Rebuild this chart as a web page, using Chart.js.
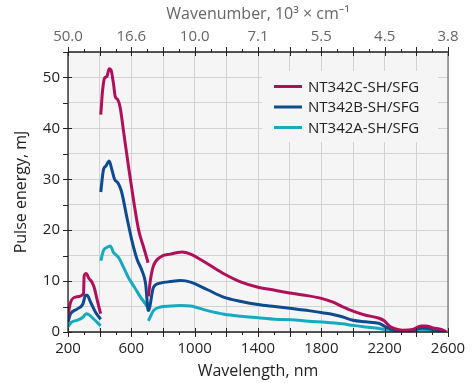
<!DOCTYPE html>
<html>
<head>
<meta charset="utf-8">
<script src="https://cdn.jsdelivr.net/npm/chart.js@4.4.1/dist/chart.umd.min.js"></script>
<style>
  html, body { margin: 0; padding: 0; background: #fff; }
  #wrap { width: 475px; height: 383px; }
</style>
</head>
<body>
<div id="wrap"><canvas id="graph" width="475" height="383"></canvas></div>
<script>
// null splits a curve between the SH / SFG ranges
const waveC = [200, 217, 253, 298, 302, 315, 332, 349, 364, 385, 406, null,
    407, 418, 431, 446, 460, 471, 488, 498, 515, 530, 551, 583, 615, 647, 678, 706, null,
    708, 722, 740, 783, 847, 921, 974, 1081, 1187, 1294, 1400, 1506, 1613, 1719, 1800, 1870, 1932,
    2000, 2080, 2165, 2197, 2229, 2260, 2313, 2377, 2430, 2461, 2504, 2557, 2588];
const energyC = [3.2, 5.9, 6.9, 7.5, 11.0, 11.5, 10.5, 9.9, 8.9, 6.2, 3.6, null,
    42.7, 47.3, 49.9, 50.2, 51.7, 51.5, 48.6, 46.3, 45.6, 44.0, 39.4, 32.3, 25.7, 19.9, 16.6, 13.6, null,
    7.0, 10.5, 13.0, 14.7, 15.3, 15.7, 15.3, 13.4, 11.4, 9.8, 8.8, 8.2, 7.6, 7.1, 6.6, 5.9, 5.0,
    4.1, 3.3, 2.7, 2.2, 1.2, 0.7, 0.35, 0.5, 1.2, 1.2, 0.8, 0.5, 0.1];

const waveB = [200, 215, 257, 294, 311, 321, 342, 374, 406, null,
    407, 424, 439, 460, 477, 494, 515, 537, 572, 604, 636, 668, 690, 705,
    708, 740, 783, 847, 911, 974, 1081, 1187, 1294, 1400, 1506, 1613, 1719, 1826, 1880, 1932,
    2000, 2080, 2165, 2207, 2260, 2355, 2440, 2504, 2588];
const energyB = [1.9, 3.5, 4.5, 5.5, 7.2, 7.2, 5.9, 3.9, 2.5, null,
    27.5, 31.9, 32.6, 33.6, 31.9, 30.0, 29.3, 27.7, 22.5, 17.9, 14.3, 12.0, 9.5, 4.4,
    4.2, 8.8, 9.6, 9.9, 10.1, 9.8, 8.3, 6.8, 6.0, 5.4, 5.0, 4.6, 4.2, 3.7, 3.4, 3.0,
    2.3, 2.0, 1.7, 1.0, 0.35, 0.2, 0.8, 0.5, 0.1];

const waveA = [200, 221, 257, 294, 315, 332, 364, 406, null,
    407, 424, 446, 467, 488, 498, 520, 551, 583, 620, 655, 680, 704, null,
    708, 740, 783, 847, 911, 974, 1081, 1187, 1294, 1400, 1506, 1613, 1719, 1826, 1932,
    2000, 2080, 2165, 2250, 2355, 2440, 2504, 2588];
const energyA = [1.0, 1.9, 2.3, 2.9, 3.6, 3.4, 2.5, 1.2, null,
    14.0, 16.0, 16.6, 16.9, 15.6, 15.3, 14.6, 12.7, 10.6, 8.8, 7.0, 5.9, 4.8, null,
    2.2, 4.2, 4.9, 5.1, 5.2, 5.1, 4.2, 3.5, 3.1, 2.8, 2.5, 2.4, 2.1, 1.9, 1.6,
    1.3, 1.0, 0.7, 0.2, 0.07, 0.5, 0.3, 0.1];

const seriesNames = ['NT342C-SH/SFG', 'NT342B-SH/SFG', 'NT342A-SH/SFG'];
const seriesColors = ['#b0105a', '#0d4a8e', '#15aabf'];

const wavelengthTicks = [200, 600, 1000, 1400, 1800, 2200, 2600];
const wavenumberTicks = ['50.0', '16.6', '10.0', '7.1', '5.5', '4.5', '3.8'];
const energyTicks = [0, 10, 20, 30, 40, 50];

const FONT = '"Open Sans", "Noto Sans", sans-serif';

function toPoints(xs, ys) {
    return xs.map((x, i) => ({x: x, y: ys[i]}));
}

const waves = [waveC, waveB, waveA];
const energies = [energyC, energyB, energyA];

// plot background, frame, tick marks and the inset legend
const decor = {
    id: 'decor',
    beforeDraw(chart) {
        const {ctx, chartArea: a} = chart;
        ctx.save();
        ctx.fillStyle = '#f5f5f5';
        ctx.fillRect(a.left, a.top, a.right - a.left, a.bottom - a.top);
        ctx.restore();
    },
    afterDatasetsDraw(chart) {
        const {ctx, chartArea: a, scales} = chart;
        ctx.save();

        // legend
        ctx.fillStyle = '#f5f5f5';
        ctx.fillRect(262, 71, 176, 71);
        ctx.font = '15px ' + FONT;
        ctx.textBaseline = 'middle';
        ctx.textAlign = 'left';
        chart.data.datasets.forEach((ds, i) => {
            const ly = 86.5 + i * 20.5;
            ctx.strokeStyle = ds.borderColor;
            ctx.lineWidth = 3;
            ctx.beginPath();
            ctx.moveTo(274, ly);
            ctx.lineTo(302, ly);
            ctx.stroke();
            ctx.fillStyle = '#222';
            ctx.fillText(ds.label, 308, ly + 1);
        });

        // frame
        ctx.lineWidth = 1.3;
        ctx.strokeStyle = '#222';
        ctx.beginPath();
        ctx.moveTo(a.left, a.top);
        ctx.lineTo(a.left, a.bottom);
        ctx.lineTo(a.right, a.bottom);
        ctx.moveTo(a.left, a.top);
        ctx.lineTo(a.right, a.top);
        ctx.stroke();
        ctx.strokeStyle = '#777';
        ctx.beginPath();
        ctx.moveTo(a.right, a.top);
        ctx.lineTo(a.right, a.bottom);
        ctx.stroke();

        // tick marks
        ctx.lineWidth = 1;
        ctx.strokeStyle = '#222';
        ctx.beginPath();
        scales.x.ticks.forEach(t => {
            const px = Math.round(scales.x.getPixelForValue(t.value)) + 0.5;
            const major = t.value % 200 === 0;
            ctx.moveTo(px, major ? a.bottom - 4 : a.bottom);
            ctx.lineTo(px, a.bottom + (major ? 5 : 3));
        });
        scales.x2.ticks.forEach(t => {
            const px = Math.round(scales.x2.getPixelForValue(t.value)) + 0.5;
            const major = t.value % 200 === 0;
            ctx.moveTo(px, a.top - (major ? 5 : 3));
            ctx.lineTo(px, major ? a.top + 4 : a.top);
        });
        scales.y.ticks.forEach(t => {
            const py = Math.round(scales.y.getPixelForValue(t.value)) + 0.5;
            const major = t.value % 10 === 0;
            ctx.moveTo(a.left - 5, py);
            ctx.lineTo(major ? a.left + 4 : a.left, py);
        });
        ctx.stroke();
        ctx.restore();
    }
};

const graph_cont = document.getElementById('graph');

let myChart = new Chart(graph_cont, {
    type: 'line',
    data: {
        datasets: seriesNames.map((name, i) => ({
            label: name,
            data: toPoints(waves[i], energies[i]),
            borderColor: seriesColors[i],
            backgroundColor: seriesColors[i],
            borderWidth: 3,
            pointRadius: 0,
            cubicInterpolationMode: 'monotone',
            spanGaps: false,
            fill: false
        }))
    },
    options: {
        responsive: false,
        animation: false,
        layout: {
            padding: {left: 0, right: 27, top: 0, bottom: 0}
        },
        scales: {
            x: {
                type: 'linear',
                position: 'bottom',
                min: 200,
                max: 2600,
                afterFit(scale) { scale.height = 51; },
                ticks: {
                    stepSize: 100,
                    autoSkip: false,
                    maxRotation: 0,
                    padding: 8,
                    color: '#222',
                    font: {family: FONT, size: 15},
                    callback: v => wavelengthTicks.includes(v) ? String(v) : ''
                },
                grid: {
                    drawTicks: false,
                    color: c => (c.tick && c.tick.value % 200 === 0) ? '#d2d2d2' : 'rgba(0,0,0,0)',
                    lineWidth: 1
                },
                border: {display: false},
                title: {
                    display: true,
                    text: 'Wavelength, nm',
                    color: '#222',
                    font: {family: FONT, size: 16},
                    padding: {top: 2, bottom: 2}
                }
            },
            x2: {
                type: 'linear',
                position: 'top',
                min: 200,
                max: 2600,
                afterFit(scale) { scale.height = 52; },
                ticks: {
                    stepSize: 100,
                    autoSkip: false,
                    maxRotation: 0,
                    padding: 6,
                    color: '#666',
                    font: {family: FONT, size: 15},
                    callback: v => {
                        const i = wavelengthTicks.indexOf(v);
                        return i >= 0 ? wavenumberTicks[i] : '';
                    }
                },
                grid: {display: false, drawTicks: false},
                border: {display: false},
                title: {
                    display: true,
                    text: 'Wavenumber, 10³ × cm⁻¹',
                    color: '#666',
                    font: {family: FONT, size: 16},
                    padding: {top: 5, bottom: 0}
                }
            },
            y: {
                min: 0,
                max: 55,
                afterFit(scale) { scale.width = 68; },
                ticks: {
                    stepSize: 5,
                    padding: 8,
                    color: '#222',
                    font: {family: FONT, size: 15},
                    callback: v => energyTicks.includes(v) ? String(v) : ''
                },
                grid: {
                    drawTicks: false,
                    color: '#d2d2d2',
                    lineWidth: 1
                },
                border: {display: false},
                title: {
                    display: true,
                    text: 'Pulse energy, mJ',
                    color: '#222',
                    font: {family: FONT, size: 16},
                    padding: {top: 12, bottom: 0}
                }
            }
        },
        plugins: {
            legend: {display: false},
            tooltip: {enabled: false}
        }
    },
    plugins: [decor]
});
</script>
</body>
</html>
